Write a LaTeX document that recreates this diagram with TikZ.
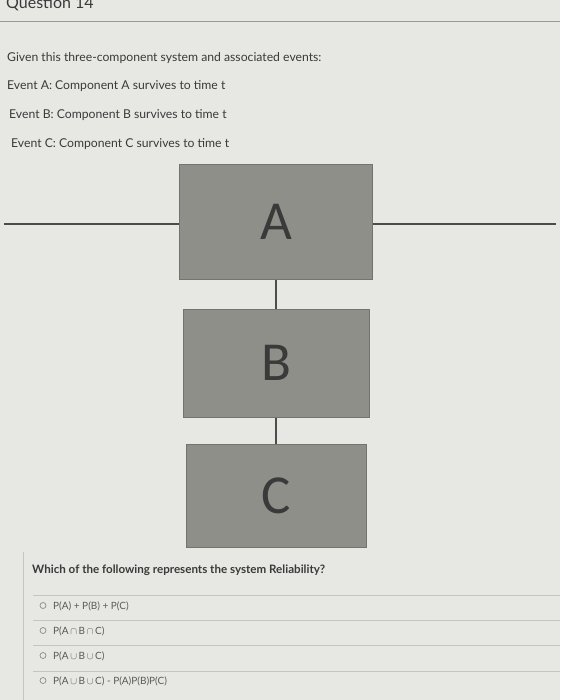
\documentclass[tikz,border=0pt]{standalone}
\usepackage{fontspec}
\setmainfont{Lato}
\newfontfamily\boxfont{Carlito}

\definecolor{pagebg}{HTML}{E7E7E4}
\definecolor{boxfill}{HTML}{8F8F8A}
\definecolor{boxline}{HTML}{74746F}
\definecolor{inktext}{HTML}{3A3A3A}
\definecolor{rulegray}{HTML}{C4C4C0}

\tikzset{
  block/.style={draw=boxline, fill=boxfill, line width=1pt, text=inktext,
    font=\boxfont\fontsize{55}{57}\selectfont, inner sep=0pt},
  wire/.style={draw=black!70, line width=1.6pt},
  txt/.style={anchor=base west, inner sep=0pt, text=inktext,
    font=\fontsize{12.2}{14}\selectfont},
  opt/.style={anchor=base west, inner sep=0pt, text=black!65,
    font=\fontsize{10}{12}\selectfont}
}

\begin{document}
\begin{tikzpicture}[x=1pt,y=-1pt]
	\fill[pagebg] (0,0) rectangle (560,700);
	\useasboundingbox (0,0) rectangle (560,700);

	% header
	\node[txt, font=\fontsize{16}{18}\selectfont] (title) at (6,9) {Question 14};
	\draw[black!40, line width=1pt] (0,22) -- (560,22);

	% question text
	\node[txt] (given) at (7,62) {Given this three-component system and associated events:};
	\node[txt] (evA) at (7,90) {Event A: Component A survives to time t};
	\node[txt] (evB) at (9,119) {Event B: Component B survives to time t};
	\node[txt] (evC) at (11,148) {Event C: Component C survives to time t};

	% components
	\node[block, minimum width=193, minimum height=114] (A) at (276,222) {A};
	\node[block, minimum width=186, minimum height=108] (B) at (276,363) {B};
	\node[block, minimum width=180, minimum height=103] (C) at (276,496) {C};

	% wires
	\coordinate (in) at (4,224);
	\coordinate (out) at (556,224);
	\draw[wire] (in) -- (in -| A.west);
	\draw[wire] (out) -- (out -| A.east);
	\draw[wire] (A) -- (B);
	\draw[wire] (B) -- (C);

	% answers
	\draw[rulegray, line width=0.8pt] (23,552) -- (23,700);
	\node[txt, font=\bfseries\fontsize{11.6}{13}\selectfont] (ask) at (32,573)
		{Which of the following represents the system Reliability?};
	\foreach \y in {595,620,645,671}
		\draw[rulegray, line width=0.8pt] (33,\y) -- (560,\y);
	\foreach \y in {605.5,630.5,655.5,680.5}
		\draw[black!45, line width=0.7pt] (43,\y) circle [radius=3];
	\node[opt] (o1) at (53,609) {P(A) + P(B) + P(C)};
	\node[opt] (o2) at (53,634) {P(A\,$\cap$\,B\,$\cap$\,C)};
	\node[opt] (o3) at (53,659) {P(A\,$\cup$\,B\,$\cup$\,C)};
	\node[opt] (o4) at (53,684) {P(A\,$\cup$\,B\,$\cup$\,C) - P(A)P(B)P(C)};
\end{tikzpicture}
\end{document}
